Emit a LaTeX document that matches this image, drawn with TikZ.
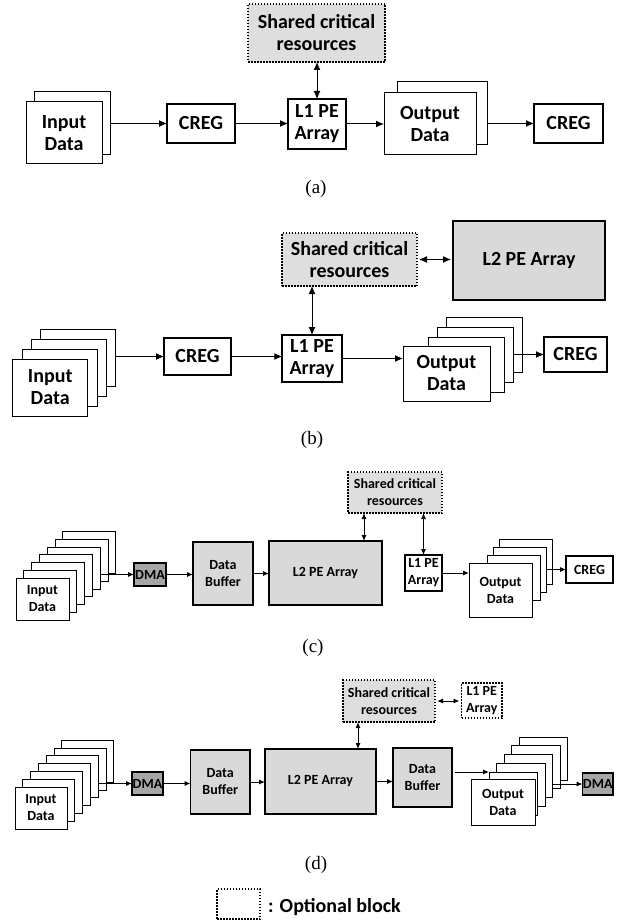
\documentclass[tikz,border=0pt]{standalone}
\usepackage{fontspec}
\setmainfont{Carlito}
\newfontfamily\capfont{Liberation Serif}
\usetikzlibrary{arrows.meta}
\definecolor{boxgray}{HTML}{D9D9D9}
\definecolor{optgray}{HTML}{DEDEDE}
\definecolor{dmagray}{HTML}{A6A6A6}

\tikzset{
  bigtext/.style={font=\bfseries\fontsize{20}{22}\selectfont},
  smalltext/.style={font=\bfseries\fontsize{14}{17}\selectfont},
  blk/.style={draw, rectangle, inner sep=0pt, outer sep=0pt, align=center, fill=white, line width=1pt},
  sheetbox/.style={blk},
  heavybox/.style={blk, line width=2.2pt},
  midbox/.style={blk, line width=1.6pt},
  shaded/.style={fill=boxgray},
  optbox/.style={blk, line width=1.6pt, dash pattern=on 1.5pt off 1.5pt},
  bigarrow/.style={line width=1pt, -{Latex[length=8pt,width=7pt]}},
  bigdouble/.style={line width=1pt, {Latex[length=8pt,width=7pt]}-{Latex[length=8pt,width=7pt]}},
  smallarrow/.style={line width=1pt, -{Latex[length=6pt,width=5pt]}},
  smalldouble/.style={line width=1pt, {Latex[length=6pt,width=5pt]}-{Latex[length=6pt,width=5pt]}},
  subcap/.style={font=\capfont\fontsize{19}{22}\selectfont, inner sep=0pt},
}

\begin{document}
\begin{tikzpicture}[x=1pt,y=-1pt]
\useasboundingbox[fill=white] (0,0) rectangle (622,920);

% ---------------- (a) ----------------
\node[sheetbox, minimum width=76pt, minimum height=63pt, anchor=north west] (ina1) at (34,92) {};
\node[sheetbox, bigtext, minimum width=76pt, minimum height=62pt, anchor=north west] (ina0) at (26,102) {Input\\Data};
\node[heavybox, bigtext, minimum width=68pt, minimum height=39pt] (crega1) at (201,123.5) {CREG};
\node[heavybox, bigtext, minimum width=58pt, minimum height=50pt] (l1a) at (317,124) {L1 PE\\Array};
\node[sheetbox, minimum width=90pt, minimum height=63pt, anchor=north west] (outa1) at (397,82) {};
\node[sheetbox, bigtext, minimum width=92pt, minimum height=62pt, anchor=north west] (outa0) at (384,93) {Output\\Data};
\node[heavybox, bigtext, minimum width=69pt, minimum height=39pt] (crega2) at (568.5,123.5) {CREG};
\node[optbox, fill=optgray, bigtext, minimum width=137pt, minimum height=58pt] (sha) at (316.5,33) {Shared critical\\resources};

\draw[bigarrow] (ina1.east |- crega1.west) -- (crega1.west);
\draw[bigarrow] (crega1.east) -- (crega1.east -| l1a.west);
\draw[bigarrow] (l1a.east) -- (l1a.east -| outa0.west);
\draw[bigarrow] (outa1.east |- crega2.west) -- (crega2.west);
\draw[bigdouble] (l1a.north |- sha.south) -- (l1a.north);

\node[subcap] (capa) at (316,189) {(a)};

% ---------------- (b) ----------------
\foreach \i in {3,2,1} {
  \node[sheetbox, minimum width=75pt, minimum height=57pt, anchor=north west] (inb\i) at ({12.7+9.4*\i},{359-10*\i}) {};
}
\node[sheetbox, bigtext, minimum width=75pt, minimum height=57pt, anchor=north west] (inb0) at (12.7,359) {Input\\Data};
\node[heavybox, bigtext, minimum width=67pt, minimum height=37pt] (cregb1) at (197.5,356.5) {CREG};
\node[heavybox, bigtext, minimum width=59.5pt, minimum height=47pt] (l1b) at (312,358.5) {L1 PE\\Array};
\foreach \i in {3,2,1} {
  \node[sheetbox, minimum width=76pt, minimum height=55pt, anchor=north west] (outb\i) at ({419+9*\i},{347-10*\i}) {};
}
\node[sheetbox, bigtext, minimum width=87pt, minimum height=55pt, anchor=north west] (outb0) at (403,346) {Output\\Data};
\node[heavybox, bigtext, minimum width=63pt, minimum height=35pt] (cregb2) at (575.5,354.5) {CREG};
\node[optbox, fill=optgray, bigtext, minimum width=135pt, minimum height=53pt] (shb) at (349.5,259.5) {Shared critical\\resources};
\node[heavybox, shaded, bigtext, minimum width=152pt, minimum height=79pt] (l2b) at (529,260.5) {L2 PE Array};

\draw[bigarrow] (inb3.east |- cregb1.west) -- (cregb1.west);
\draw[bigarrow] (cregb1.east) -- (cregb1.east -| l1b.west);
\draw[bigarrow] (l1b.east) -- (l1b.east -| outb0.west);
\draw[bigarrow] (outb2.east |- cregb2.west) -- (cregb2.west);
\draw[bigdouble, shorten <=2pt, shorten >=2pt] (shb.east) -- (shb.east -| l2b.west);
\draw[bigdouble] (l1b.north |- shb.south) -- (l1b.north);

\node[subcap] (capb) at (312,440) {(b)};

% ---------------- (c) ----------------
\foreach \i in {6,5,4,3,2,1} {
  \node[sheetbox, minimum width=53pt, minimum height=42pt, anchor=north west] (inc\i) at ({16+7.8*\i},{578-7.7*\i}) {};
}
\node[sheetbox, smalltext, minimum width=53pt, minimum height=42pt, anchor=north west] (inc0) at (16,578) {Input\\Data};
\node[midbox, fill=dmagray, smalltext, minimum width=32pt, minimum height=23pt] (dmac) at (150,574.5) {DMA};
\node[midbox, shaded, smalltext, minimum width=60pt, minimum height=63pt] (dbc) at (223,573.5) {Data\\Buffer};
\node[midbox, shaded, smalltext, minimum width=113pt, minimum height=64pt] (l2c) at (325.5,573) {L2 PE Array};
\node[optbox, fill=optgray, smalltext, minimum width=94pt, minimum height=41pt] (shc) at (395,492.5) {Shared critical\\resources};
\node[midbox, smalltext, minimum width=37pt, minimum height=36pt] (l1c) at (423.5,573) {L1 PE\\Array};
\foreach \i in {3,2,1} {
  \node[sheetbox, minimum width=53pt, minimum height=45pt, anchor=north west] (outc\i) at ({481+6*\i},{563-8*\i}) {};
}
\node[sheetbox, smalltext, minimum width=63pt, minimum height=54pt, anchor=north west] (outc0) at (469,563) {Output\\Data};
\node[midbox, smalltext, minimum width=47pt, minimum height=27pt] (cregc) at (589.5,569.5) {CREG};

\draw[smallarrow] (inc4.east |- dmac.west) -- (dmac.west);
\draw[smallarrow] (dmac.east) -- (dmac.east -| dbc.west);
\draw[smallarrow] (dbc.east) -- (dbc.east -| l2c.west);
\draw[smalldouble] ([xshift=16pt]shc.south west) -- ([xshift=16pt]shc.south west |- l2c.north);
\draw[smalldouble] (l1c.north |- shc.south) -- (l1c.north);
\draw[smallarrow] (l1c.east) -- (l1c.east -| outc0.west);
\draw[smallarrow] (outc2.east |- cregc.west) -- (cregc.west);

\node[subcap] (capc) at (313,648) {(c)};

% ---------------- (d) ----------------
\foreach \i in {6,5,4,3,2,1} {
  \node[sheetbox, minimum width=52pt, minimum height=42pt, anchor=north west] (ind\i) at ({15+7.8*\i},{787-7.8*\i}) {};
}
\node[sheetbox, smalltext, minimum width=52pt, minimum height=42pt, anchor=north west] (ind0) at (15,787) {Input\\Data};
\node[midbox, fill=dmagray, smalltext, minimum width=31pt, minimum height=23pt] (dmad1) at (147.5,783.5) {DMA};
\node[midbox, shaded, smalltext, minimum width=59.5pt, minimum height=64pt] (dbd1) at (220.25,782) {Data\\Buffer};
\node[midbox, shaded, smalltext, minimum width=111pt, minimum height=65pt] (l2d) at (320.5,781.5) {L2 PE Array};
\node[midbox, shaded, smalltext, minimum width=59pt, minimum height=59pt] (dbd2) at (422.5,777.5) {Data\\Buffer};
\node[optbox, fill=optgray, smalltext, minimum width=92pt, minimum height=42pt] (shd) at (389,701) {Shared critical\\resources};
\node[optbox, smalltext, minimum width=40.5pt, minimum height=35pt] (l1d) at (481.75,700.5) {L1 PE\\Array};
\foreach \i in {5,4,3,2,1} {
  \node[sheetbox, minimum width=48.5pt, minimum height=43pt, anchor=north west] (outd\i) at ({481.5+7.5*\i},{780.75-8.75*\i}) {};
}
\node[sheetbox, smalltext, minimum width=64pt, minimum height=46pt, anchor=north west] (outd0) at (471,779) {Output\\Data};
\node[midbox, fill=dmagray, smalltext, minimum width=30.5pt, minimum height=22pt] (dmad2) at (597.75,784) {DMA};

\draw[smallarrow] (ind4.east |- dmad1.west) -- (dmad1.west);
\draw[smallarrow] (dmad1.east) -- (dmad1.east -| dbd1.west);
\draw[smallarrow] (dbd1.east) -- (dbd1.east -| l2d.west);
\draw[smallarrow] (l2d.east) -- (l2d.east -| dbd2.west);
\draw[smalldouble] ([xshift=15pt]shd.south west) -- ([xshift=15pt]shd.south west |- l2d.north);
\draw[smalldouble, shorten <=2pt, shorten >=2pt] (shd.east) -- (shd.east -| l1d.west);
\draw[smallarrow, shorten <=3pt] (dbd2.east |- outd1.north west) -- (outd1.north west);
\draw[smallarrow] (outd3.east |- dmad2.west) -- (dmad2.west);

\node[subcap] (capd) at (316,865) {(d)};

% ---------------- legend ----------------
\node[optbox, minimum width=43pt, minimum height=30pt, anchor=north west] (legbox) at (217,889) {};
\node[font=\bfseries\fontsize{20}{24}\selectfont, inner sep=0pt, anchor=base west] (legtext) at (268,912) {: Optional block};
\end{tikzpicture}
\end{document}
